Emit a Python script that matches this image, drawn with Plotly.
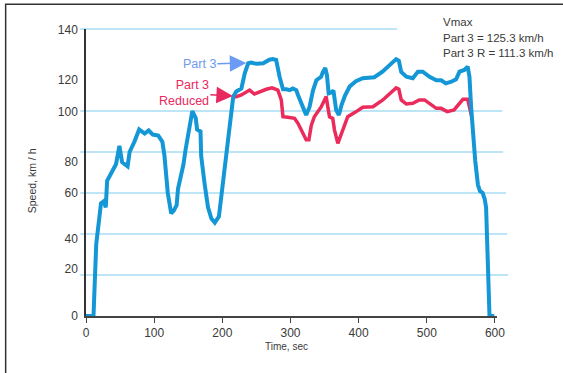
import plotly.graph_objects as go

# ---- data ----
part3_t = [0, 11, 15, 22, 26, 29, 31, 37, 44, 49, 53, 61, 64, 71, 78, 86, 92, 98, 106, 112,
           115, 120, 125, 129, 133, 135, 140, 143, 146, 152, 156, 161, 163, 168, 169, 174,
           179, 184, 189, 195, 198.5, 203, 208, 212, 216, 220.5, 228, 233, 238, 242.5, 250,
           260, 269, 274, 279, 284, 289, 294, 299, 303.5, 308.5, 311, 316, 323, 328, 333,
           338, 345, 347.5, 351, 353.5, 356, 360, 363, 367, 371, 375, 380, 387, 396, 406,
           423, 435, 455, 459, 462.5, 470, 479.5, 487, 494, 504, 514, 521, 528, 536, 543,
           548, 555, 560, 562.6, 565, 568, 571, 575, 578, 582, 585, 587, 588, 589.5, 591,
           592, 599]
part3_v = [0, 0, 35, 55, 56, 53, 66, 70, 74, 83, 75, 73, 80, 85, 91, 89, 90.5, 88.5, 88, 85,
           78.5, 60, 50, 51.5, 54, 62, 69.5, 74, 81, 91, 100, 96.5, 91, 90, 78, 64.5,
           53, 47.5, 45.5, 48.5, 58, 69.5, 86, 97, 107, 109.5, 111, 118.5, 123.3, 123.6, 123,
           123.3, 125, 125.3, 124.9, 116.7, 110.6, 110.6, 110.2, 111, 110.2, 107.8, 103.8, 98, 102, 110,
           115, 116.7, 119, 121, 117.5, 108.6, 109, 110, 100.5, 98, 103, 107.5, 112, 114.5, 116,
           116.5, 119.2, 125.3, 124.5, 119, 116.7, 116, 119.2, 119.2, 116.7, 115, 115, 113.5, 114.3, 115.5,
           119.2, 120, 121.6, 116.7, 102, 88, 76, 64, 61, 60, 57, 53, 40, 20, 3,
           0, 0]

reduced_t = [215.5, 220.5, 228, 235, 240, 247, 255, 264.5, 273, 281.5, 286.5, 289, 296, 306,
             311, 318, 323, 327, 330.5, 335, 345, 350, 352.4, 354.8, 357.3, 362, 364.6,
             369.5, 374.5, 384, 396.5, 406, 421, 435.5, 455, 459, 462.5, 470, 479.5, 489,
             496.6, 506, 514, 521, 530, 540, 548, 553, 560, 562.6, 566]
reduced_v = [107, 107, 107.8, 109.4, 110.2, 108.3, 109.4, 110.6, 111.3, 110.2, 105.4, 97.2,
             96.9, 96.4, 94, 89, 86, 86, 93, 97.2, 102, 105.4, 107, 102, 97.2, 96.4, 90.7,
             84.2, 89, 97.2, 99.7, 101.8, 102.1, 105.4, 111.3, 110.6, 105.4, 103.4, 103.8,
             105.4, 105.4, 103.4, 101.3, 101.3, 99.7, 100.5, 103.8, 105.7, 105.7, 102, 97]

x_ticks = [0, 100, 200, 300, 400, 500, 600]
y_grid = [20, 40, 60, 80, 100, 140]
y_labels = ["0", "20", "40", "60", "80", "100", "120", "140"]
vmax_lines = ["Vmax", "Part 3 = 125.3 km/h", "Part 3 R = 111.3 km/h"]

# ---- layout constants (positions / styles) ----
Y_MAX = 140
y_label_pos = [0, 22.9, 37.7, 60.3, 75.0, 99.4, 115.1, 139.6]
grid_right = {20: 1.027, 40: 1.025, 60: 1.022, 80: 1.015, 100: 1.013, 140: 0.757}
BLUE = "#1497d6"
RED = "#ea2b5b"
FONT = "Liberation Sans, Arial, sans-serif"
TXT = "#3a3a3a"

fig = go.Figure()
fig.add_trace(go.Scatter(x=reduced_t, y=reduced_v, mode="lines",
                         line=dict(color=RED, width=3.5), hoverinfo="skip"))
fig.add_trace(go.Scatter(x=part3_t, y=part3_v, mode="lines",
                         line=dict(color=BLUE, width=4), hoverinfo="skip"))

shapes = []
for g in y_grid:
    shapes.append(dict(type="line", xref="paper", yref="y domain",
                       x0=-0.014, x1=grid_right[g], y0=g / Y_MAX, y1=g / Y_MAX,
                       line=dict(color="#a9dcf2", width=1.5), layer="below"))
# outer frame (top and left visible)
shapes.append(dict(type="rect", xref="paper", yref="paper",
                   x0=-0.1955, x1=1.17, y0=-0.21, y1=1.086,
                   line=dict(color="#333333", width=1.5), layer="below"))

annotations = [
    dict(x=235.2, y=123.4, xref="x", yref="y", text="Part 3", showarrow=True,
         ax=-47, ay=1, arrowhead=2, arrowsize=2.2, arrowwidth=1.5,
         arrowcolor="#6b9bf2", font=dict(family=FONT, size=12.5, color="#6b9bf2")),
    dict(x=215.5, y=107.3, xref="x", yref="y", text="Part 3<br>Reduced", showarrow=True,
         ax=-49, ay=-3, align="right", arrowhead=2, arrowsize=2.2, arrowwidth=1.5,
         arrowcolor="#e8285e", font=dict(family=FONT, size=12.5, color="#e8285e")),
    dict(x=-0.131, y=0.47, xref="paper", yref="paper", text="Speed, km / h",
         xanchor="center", yanchor="middle",
         textangle=-90, showarrow=False, font=dict(family=FONT, size=10.5, color=TXT)),
    dict(x=0.489, y=-0.108, xref="paper", yref="paper", text="Time, sec",
         xanchor="center", yanchor="middle",
         showarrow=False, font=dict(family=FONT, size=10, color=TXT)),
]
for i, line in enumerate(vmax_lines):
    annotations.append(dict(x=0.8637, y=1.0254 - i * 0.0553, xref="paper", yref="paper",
                            text=line, showarrow=False, xanchor="left", yanchor="middle",
                            font=dict(family=FONT, size=11.5, color=TXT)))

fig.update_layout(
    width=563, height=373,
    margin=dict(l=86, r=66, t=29, b=57),
    paper_bgcolor="white", plot_bgcolor="white",
    showlegend=False,
    font=dict(family=FONT, size=12, color=TXT),
    xaxis=dict(range=[0, 603], tickvals=x_ticks, ticks="outside", ticklen=5,
               tickwidth=1.2, tickcolor="#444", showline=True, linecolor="#444",
               linewidth=1.5, showgrid=False, zeroline=False,
               tickfont=dict(family=FONT, size=12, color=TXT)),
    yaxis=dict(range=[0, Y_MAX], tickvals=y_label_pos, ticktext=y_labels, ticks="",
               showline=True, linecolor="#333", linewidth=1.5, showgrid=False,
               zeroline=False, ticklabelstandoff=4,
               tickfont=dict(family=FONT, size=12, color=TXT)),
    shapes=shapes,
    annotations=annotations,
)

fig.write_html("out.html", config={"displayModeBar": False},
               post_script="document.body.style.margin='0';document.body.style.overflow='hidden';")
